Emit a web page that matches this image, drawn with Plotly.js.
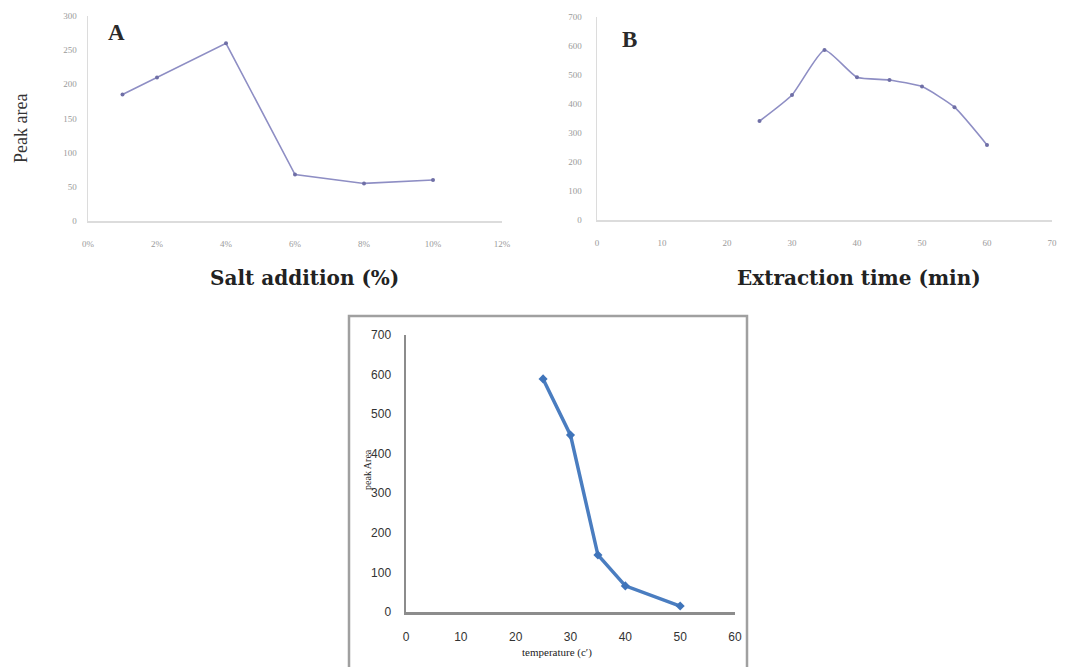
<!DOCTYPE html>
<html>
<head>
<meta charset="utf-8">
<script src="https://cdn.plot.ly/plotly-3.0.1.min.js"></script>
<style>html,body{margin:0;padding:0;background:#fff;}#chart{width:1076px;height:667px;}</style>
</head>
<body>
<div id="chart"></div>
<script>
// Panel A: salt addition
const saltPct = [1, 2, 4, 6, 8, 10];
const saltArea = [185, 210, 260, 68, 55, 60];
// Panel B: extraction time
const timeMin = [25, 30, 35, 40, 45, 50, 55, 60];
const timeArea = [341, 431, 586, 492, 483, 460, 389, 259];
// Panel C: temperature
const tempC = [25, 30, 35, 40, 50];
const tempArea = [589, 447, 144, 66, 15];

const W = 1076, H = 667;
const fx = p => p / W;
const fy = p => 1 - p / H;

const lav = '#8e8ec4';
const traces = [
  {x: saltPct, y: saltArea, xaxis: 'x', yaxis: 'y', mode: 'lines+markers',
   line: {color: lav, width: 1.6}, marker: {color: '#6f6fa6', size: 4}},
  {x: timeMin, y: timeArea, xaxis: 'x2', yaxis: 'y2', mode: 'lines+markers',
   line: {color: lav, width: 1.6, shape: 'spline', smoothing: 0.5}, marker: {color: '#6f6fa6', size: 4}},
  {x: tempC, y: tempArea, xaxis: 'x3', yaxis: 'y3', mode: 'lines+markers',
   line: {color: '#4a7dc0', width: 3.5}, marker: {color: '#3f74ba', size: 7, symbol: 'diamond'}}
];

const tickAB = {family: 'Liberation Serif, serif', size: 9, color: '#9a9a9a'};
const axAB = {showgrid: false, zeroline: false, showline: true, linecolor: '#dcdcdc', linewidth: 1.5,
  ticks: '', tickfont: tickAB};
const tickC = {family: 'Liberation Sans Narrow, Liberation Sans, sans-serif', size: 12, color: '#333'};
const axC = {showgrid: false, zeroline: false, showline: true, linecolor: '#8c8c8c', linewidth: 2.5,
  ticks: '', tickfont: tickC};

const layout = {
  width: W, height: H, autosize: false,
  margin: {l: 0, r: 0, t: 0, b: 0},
  paper_bgcolor: '#fff', plot_bgcolor: 'rgba(0,0,0,0)',
  showlegend: false,
  xaxis: Object.assign({}, axAB, {domain: [fx(88), fx(502)], range: [0, 12], dtick: 2, tick0: 0,
    ticksuffix: '%', anchor: 'y', ticklabelstandoff: 14}),
  yaxis: Object.assign({}, axAB, {domain: [fy(221), fy(16)], range: [0, 300], dtick: 50,
    anchor: 'x', ticklabelstandoff: 8}),
  xaxis2: Object.assign({}, axAB, {domain: [fx(597), fx(1052)], range: [0, 70], dtick: 10,
    anchor: 'y2', ticklabelstandoff: 14}),
  yaxis2: Object.assign({}, axAB, {domain: [fy(220), fy(17)], range: [0, 700], dtick: 100,
    anchor: 'x2', ticklabelstandoff: 12}),
  xaxis3: Object.assign({}, axC, {domain: [fx(406), fx(735)], range: [0, 60], dtick: 10,
    anchor: 'y3', ticklabelstandoff: 12}),
  yaxis3: Object.assign({}, axC, {domain: [fy(612), fy(335)], range: [0, 700], dtick: 100,
    anchor: 'x3', ticklabelstandoff: 10}),
  shapes: [
    {type: 'rect', xref: 'paper', yref: 'paper', x0: fx(349), x1: fx(747), y0: fy(680), y1: fy(316),
     line: {color: '#a0a0a0', width: 2.5}}
  ],
  annotations: [
    {text: '<b>A</b>', xref: 'paper', yref: 'paper', x: fx(116), y: fy(32), showarrow: false,
     font: {family: 'Liberation Serif, serif', size: 23, color: '#2a2a2a'}, xanchor: 'center', yanchor: 'middle'},
    {text: '<b>B</b>', xref: 'paper', yref: 'paper', x: fx(629), y: fy(39), showarrow: false,
     font: {family: 'Liberation Serif, serif', size: 23, color: '#2a2a2a'}, xanchor: 'center', yanchor: 'middle'},
    {text: 'Peak area', xref: 'paper', yref: 'paper', x: fx(21), y: fy(129), showarrow: false, textangle: -90,
     font: {family: 'Liberation Serif, serif', size: 18, color: '#333'}, xanchor: 'center', yanchor: 'middle'},
    {text: '<b>Salt addition (%)</b>', xref: 'paper', yref: 'paper', x: fx(304), y: fy(278), showarrow: false,
     font: {family: 'DejaVu Serif, serif', size: 20, color: '#222'}, xanchor: 'center', yanchor: 'middle'},
    {text: '<b>Extraction time (min)</b>', xref: 'paper', yref: 'paper', x: fx(859), y: fy(278), showarrow: false,
     font: {family: 'DejaVu Serif, serif', size: 20, color: '#222'}, xanchor: 'center', yanchor: 'middle'},
    {text: 'peak Area', xref: 'paper', yref: 'paper', x: fx(367), y: fy(470), showarrow: false, textangle: -90,
     font: {family: 'Liberation Serif, serif', size: 10, color: '#222'}, xanchor: 'center', yanchor: 'middle'},
    {text: 'temperature (c\u2032)', xref: 'paper', yref: 'paper', x: fx(557), y: fy(652), showarrow: false,
     font: {family: 'Liberation Serif, serif', size: 11, color: '#222'}, xanchor: 'center', yanchor: 'middle'}
  ]
};

Plotly.newPlot('chart', traces, layout, {staticPlot: true, displayModeBar: false});
</script>
</body>
</html>
